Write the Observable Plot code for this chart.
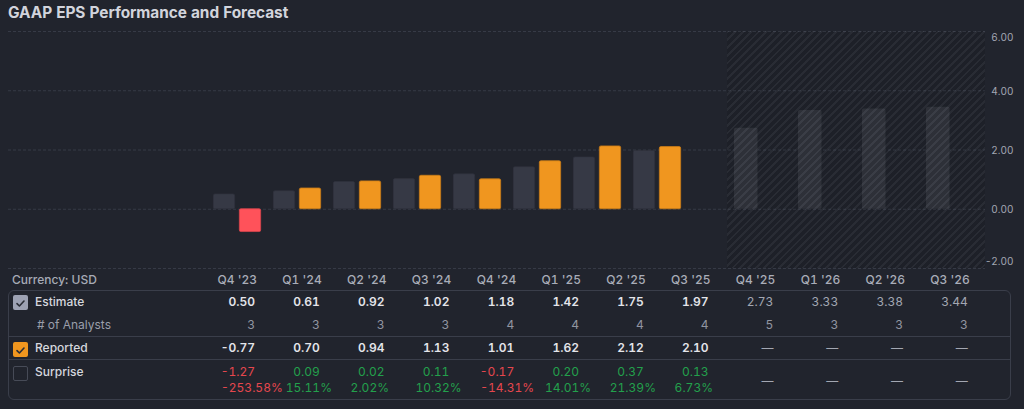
<!DOCTYPE html>
<html>
<head>
<meta charset="utf-8">
<script src="https://cdn.jsdelivr.net/npm/d3@7"></script>
<script src="https://cdn.jsdelivr.net/npm/@observablehq/plot@0.6"></script>
<style>
  html, body { margin: 0; padding: 0; background: #21242d; }
  #wrap { position: relative; width: 1024px; height: 409px; background: #21242d; overflow: hidden;
          font-family: Inter, "Noto Sans", sans-serif; font-variant-numeric: tabular-nums; }
  .abs { position: absolute; white-space: nowrap; }
  #title { left: 8px; top: 4px; font-size: 15.4px; font-weight: 700; color: #d2d4dc; line-height: 18px; letter-spacing: -0.05px; }
  #main { left: 0; top: 24px; }
  #fc { left: 727px; top: 24px; }
  #hatch { left: 727px; top: 31px; width: 258px; height: 237px; pointer-events: none;
           background: repeating-linear-gradient(135deg, rgba(255,255,255,0.035) 0 2px, rgba(0,0,0,0.11) 2px 5.5px); }
  #box { left: 8px; top: 290px; width: 1001px; height: 108px; border: 1px solid #3a3e4a; border-radius: 6px; }
  .sep { position: absolute; left: 8px; width: 1003px; height: 1px; background: #3a3e4a; }
  .cell { position: absolute; font-size: 12px; line-height: 16px; white-space: nowrap; }
  .cb { position: absolute; left: 13px; width: 15px; height: 15px; border-radius: 2px; box-sizing: border-box; }
</style>
</head>
<body>
<div id="wrap">
  <div id="title" class="abs">GAAP EPS Performance and Forecast</div>
  <div id="main" class="abs"></div>
  <div id="fc" class="abs"></div>
  <div id="hatch" class="abs"></div>
  <div id="box" class="abs"></div>
  <div id="table"></div>
</div>
<script>
// ---- data ----
const quarters = ["Q4 '23", "Q1 '24", "Q2 '24", "Q3 '24", "Q4 '24", "Q1 '25", "Q2 '25", "Q3 '25", "Q4 '25", "Q1 '26", "Q2 '26", "Q3 '26"];
const estimates = [0.50, 0.61, 0.92, 1.02, 1.18, 1.42, 1.75, 1.97, 2.73, 3.33, 3.38, 3.44];
const analysts = [3, 3, 3, 3, 4, 4, 4, 4, 5, 3, 3, 3];
const reported = [-0.77, 0.70, 0.94, 1.13, 1.01, 1.62, 2.12, 2.10, null, null, null, null];
const surprise = [-1.27, 0.09, 0.02, 0.11, -0.17, 0.20, 0.37, 0.13, null, null, null, null];
const surprisePct = [-253.58, 15.11, 2.02, 10.32, -14.31, 14.01, 21.39, 6.73, null, null, null, null];
const yTicks = [-2, 0, 2, 4, 6];
const rowLabels = ["Estimate", "# of Analysts", "Reported", "Surprise"];
const currencyLabel = "Currency: USD";

// ---- derived tables ----
const rows = quarters.map((q, i) => ({q, est: estimates[i], n: analysts[i], rep: reported[i], sur: surprise[i], pct: surprisePct[i]}));
const hist = rows.filter(d => d.rep != null);
const fcRows = rows.filter(d => d.rep == null);

const ORANGE = "#f0961f", RED = "#ff525a", ESTC = "#363945";

const main = Plot.plot({
  width: 1024, height: 250,
  marginLeft: 8, marginRight: 39, marginTop: 7, marginBottom: 6,
  style: {background: "transparent", fontFamily: "Inter, sans-serif", overflow: "visible"},
  x: {type: "band", domain: hist.map(d => d.q), range: [204.6, 690.2], padding: 0, axis: null},
  y: {domain: [-2, 6], axis: null},
  color: {type: "identity"},
  marks: [
    Plot.ruleY(yTicks, {stroke: "#363a46", strokeDasharray: "3,2"}),
    Plot.barY(hist, {x: "q", y: "est", fill: ESTC, stroke: "#30333e", strokeWidth: 0.6, insetLeft: 6.35, insetRight: 32.35, rx: 1.5}),
    Plot.barY(hist, {x: "q", y: "rep", fill: d => d.rep < 0 ? RED : ORANGE, stroke: d => d.rep < 0 ? "#d9454d" : "#c97c18", strokeWidth: 0.8, insetLeft: 32.35, insetRight: 6.35, rx: 1.5}),
    Plot.text(yTicks.filter(t => t === 6), {y: d => d, text: d => d.toFixed(2), frameAnchor: "right", dx: 28, dy: 6, textAnchor: "end", fill: "#a3a7b3", fontSize: 10}),
    Plot.text(yTicks.filter(t => t > -2 && t < 6), {y: d => d, text: d => d.toFixed(2), frameAnchor: "right", dx: 28, dy: 1, textAnchor: "end", fill: "#a3a7b3", fontSize: 10}),
    Plot.text(yTicks.filter(t => t === -2), {y: d => d, text: d => d.toFixed(2), frameAnchor: "right", dx: 28, dy: -7, textAnchor: "end", fill: "#a3a7b3", fontSize: 10})
  ]
});
document.getElementById("main").appendChild(main);

const fc = Plot.plot({
  width: 258, height: 250,
  marginLeft: 0, marginRight: 0, marginTop: 7, marginBottom: 6,
  style: {background: "transparent", overflow: "visible"},
  x: {type: "band", domain: fcRows.map(d => d.q), range: [0, 258], padding: 0, axis: null},
  y: {domain: [-2, 6], axis: null},
  marks: [
    Plot.barY(fcRows, {x: "q", y: "est", fill: "#33363f", insetLeft: 6, insetRight: 34.5, rx: 1.5})
  ]
});
document.getElementById("fc").appendChild(fc);

// ---- table ----
const T = document.getElementById("table");
function cell(text, left, top, style) {
  const el = document.createElement("div");
  el.className = "cell";
  el.textContent = text;
  el.style.left = left + "px";
  el.style.top = top + "px";
  Object.assign(el.style, style || {});
  T.appendChild(el);
  return el;
}
function rcell(text, right, top, style) {
  return cell(text, right - 80, top, Object.assign({width: "80px", textAlign: "right"}, style || {}));
}
const sep1 = document.createElement("div"); sep1.className = "sep"; sep1.style.top = "336px"; T.appendChild(sep1);
const sep2 = document.createElement("div"); sep2.className = "sep"; sep2.style.top = "359px"; T.appendChild(sep2);

cell(currencyLabel, 12, 272, {color: "#a7abb6", fontWeight: 500});
cell(rowLabels[0], 35, 294, {color: "#d5d7de", fontWeight: 500});
cell(rowLabels[1], 37, 317, {color: "#9a9eaa"});
cell(rowLabels[2], 35, 340, {color: "#d5d7de", fontWeight: 500});
cell(rowLabels[3], 35, 364, {color: "#d5d7de", fontWeight: 500});

const check = '<svg width="15" height="15" viewBox="0 0 15 15"><path d="M4 7.6 L6.4 10 L11 5" fill="none" stroke="#2a2d36" stroke-width="1.6" stroke-linecap="round" stroke-linejoin="round"/></svg>';
function box(top, style, inner) {
  const b = document.createElement("div");
  b.className = "cb"; b.style.top = top + "px";
  Object.assign(b.style, style);
  b.innerHTML = inner || "";
  T.appendChild(b);
}
box(295, {background: "#9da2b3"}, check);
box(342, {background: ORANGE}, check);
box(366, {border: "1px solid #474b57"});

const GREEN = "#23a04c", NEG = "#e5474e";
const fmt2 = d3.format(".2f");
const num = v => fmt2(v).replace("\u2212", "-");
rows.forEach((d, i) => {
  const edge = 255 + 64.8 * i;
  const isFc = d.rep == null;
  rcell(d.q, edge + 2, 272, {color: "#a9adb8", fontWeight: 500});
  rcell(num(d.est), edge, 294, isFc ? {color: "#a3a7b2"} : {color: "#e4e5ea", fontWeight: 600});
  rcell(String(d.n), edge, 317, {color: "#9195a1"});
  if (isFc) {
    rcell("—", edge, 340, {color: "#a3a7b2"});
    rcell("—", edge, 373, {color: "#a3a7b2"});
  } else {
    rcell(num(d.rep), edge, 340, {color: "#e4e5ea", fontWeight: 600});
    const c = d.sur < 0 ? NEG : GREEN;
    rcell(num(d.sur), edge, 364, {color: c});
    cell(num(d.pct) + "%", edge - 34, 380, {color: c});
  }
});
</script>
</body>
</html>
